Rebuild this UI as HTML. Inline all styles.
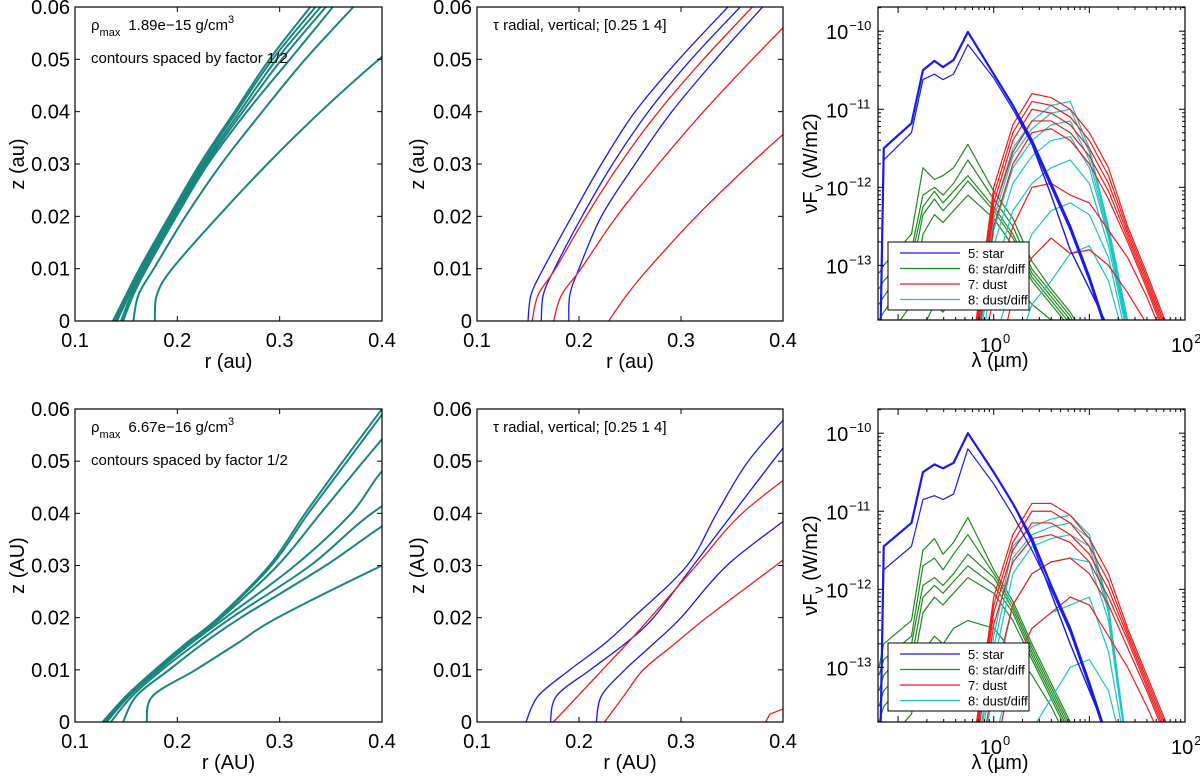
<!DOCTYPE html>
<html><head><meta charset="utf-8">
<style>
html,body{margin:0;padding:0;background:#fff;overflow:hidden;width:1200px;height:783px;}
svg{display:block;font-family:"Liberation Sans",sans-serif;}
</style></head>
<body>
<svg id="fig" width="1200" height="783" viewBox="0 0 1200 783" xmlns="http://www.w3.org/2000/svg"></svg>
<script>
// ---------- contour data (r in au at given z) ----------
const tlZ = [0,0.005,0.01,0.02,0.03,0.04,0.05,0.06];
const tlR1 = [0.137,0.150,0.163,0.192,0.222,0.256,0.290,0.330];
const tlR2 = [0.139,0.152,0.165,0.194,0.224,0.258,0.293,0.335];
const tlR3 = [0.141,0.153,0.166,0.195,0.226,0.261,0.297,0.340];
const tlR4 = [0.145,0.155,0.168,0.197,0.228,0.264,0.302,0.345];
const tlR5 = [0.147,0.157,0.170,0.199,0.230,0.268,0.310,0.352];
const tlR6 = [0.157,0.162,0.177,0.208,0.243,0.283,0.325,0.372];
const tlR7 = [0.178,0.180,0.195,0.240,0.288,0.340,0.397,0.460];

const tmZ = [0,0.005,0.01,0.02,0.03,0.04,0.05,0.06];
const tmBlue1 = [0.150,0.153,0.165,0.193,0.222,0.255,0.298,0.346];
const tmBlue2 = [0.163,0.165,0.176,0.203,0.233,0.268,0.310,0.358];
const tmBlue3 = [0.190,0.191,0.200,0.222,0.255,0.291,0.334,0.380];
const tmRed1 = [0.154,0.160,0.177,0.207,0.240,0.278,0.322,0.370];
const tmRed2 = [0.175,0.183,0.202,0.237,0.278,0.322,0.370,0.420];
const tmRed3 = [0.229,0.247,0.268,0.315,0.368,0.425,0.480,0.540];

const blZ = [0,0.005,0.01,0.015,0.02,0.03,0.04,0.05,0.06];
const blR1 = [0.127,0.150,0.178,0.208,0.240,0.290,0.325,0.362,0.400];
const blR2 = [0.128,0.151,0.179,0.209,0.241,0.292,0.328,0.366,0.404];
const blR3 = [0.129,0.152,0.180,0.210,0.243,0.298,0.340,0.382,0.425];
const blR4 = [0.131,0.153,0.182,0.213,0.247,0.315,0.370,0.410,0.490];
const blR5 = [0.135,0.156,0.185,0.218,0.253,0.330,0.390,0.470,0.550];
const blR6 = [0.147,0.160,0.192,0.225,0.262,0.345,0.420,0.520,0.610];
const blR7 = [0.170,0.176,0.218,0.258,0.298,0.400,0.510,0.620,0.730];

const bmZ = [0,0.005,0.01,0.015,0.02,0.03,0.04,0.05,0.06];
const bmBlue1 = [0.148,0.160,0.191,0.225,0.253,0.306,0.335,0.366,0.410];
const bmBlue2 = [0.172,0.178,0.211,0.245,0.273,0.312,0.351,0.390,0.430];
const bmBlue3 = [0.217,0.222,0.245,0.273,0.300,0.345,0.410,0.470,0.530];
const bmRed1 = [0.175,0.199,0.223,0.247,0.270,0.315,0.360,0.425,0.490];
const bmRed2 = [0.225,0.244,0.263,0.294,0.325,0.393,0.460,0.530,0.600];
const bmRed3R = [0.383,0.387,0.400];
const bmRed3Z = [0,0.0015,0.0025];

// ---------- SED data (log10 lambda [um], log10 nuFnu [W/m2]) ----------
const L = [-1.2,-1.15,-0.86,-0.74,-0.62,-0.53,-0.42,-0.27,0,0.2,0.4,0.6,0.8,1.0,1.2,1.4,1.6,1.9];
const tB1 = [-15,-11.5,-11.18,-10.5,-10.38,-10.46,-10.37,-10.01,-10.55,-10.95,-11.4,-11.95,-12.5,-13.15,-13.9,-15,-15,-15];
const tB2 = [-15,-11.65,-11.3,-10.62,-10.55,-10.62,-10.55,-10.17,-10.6,-11.0,-11.45,-12.0,-12.55,-13.2,-13.95,-15,-15,-15];
const tB3 = [-15,-11.5,-11.18,-10.5,-10.38,-10.46,-10.37,-10.01,-10.55,-10.95,-11.45,-12.1,-12.8,-13.3,-13.8,-15,-15,-15];
const tG1 = [-13.1,-13.0,-12.6,-11.75,-11.9,-11.85,-11.75,-11.45,-12.05,-12.4,-12.95,-13.3,-13.6,-14.0,-15,-15,-15,-15];
const tG2 = [-13.3,-13.2,-12.8,-12.1,-12.0,-12.1,-11.95,-11.65,-12.15,-12.5,-13.05,-13.35,-13.65,-14.1,-15,-15,-15,-15];
const tG3 = [-13.5,-13.4,-12.9,-12.25,-12.05,-12.2,-12.05,-11.85,-12.25,-12.6,-13.1,-13.4,-13.7,-14.1,-15,-15,-15,-15];
const tG4 = [-13.7,-13.6,-13.1,-12.35,-12.15,-12.3,-12.15,-11.92,-12.3,-12.65,-13.15,-13.45,-13.75,-14.2,-15,-15,-15,-15];
const tG5 = [-15,-14,-13.5,-12.6,-12.35,-12.45,-12.3,-12.1,-12.4,-12.75,-13.2,-13.5,-13.8,-14.2,-15,-15,-15,-15];
const tG6 = [-15,-15,-14.5,-13.8,-13.5,-13.6,-13.4,-12.9,-13.0,-13.2,-13.5,-13.7,-13.9,-14.3,-15,-15,-15,-15];
const tR1 = [-15,-15,-15,-15,-15,-15,-15,-14.5,-12.0,-11.2,-10.8,-10.85,-11.0,-11.3,-11.75,-12.5,-13.1,-14.05];
const tR2 = [-15,-15,-15,-15,-15,-15,-15,-14.6,-12.1,-11.3,-10.9,-10.95,-11.1,-11.4,-11.85,-12.55,-13.15,-14.1];
const tR3 = [-15,-15,-15,-15,-15,-15,-15,-14.7,-12.2,-11.4,-11.0,-11.05,-11.2,-11.5,-11.95,-12.6,-13.2,-14.15];
const tR4 = [-15,-15,-15,-15,-15,-15,-15,-14.8,-12.3,-11.55,-11.15,-11.15,-11.3,-11.6,-12.05,-12.65,-13.25,-14.2];
const tR5 = [-15,-15,-15,-15,-15,-15,-15,-14.9,-12.5,-11.7,-11.3,-11.25,-11.4,-11.7,-12.15,-12.7,-13.3,-14.25];
const tR6 = [-15,-15,-15,-15,-15,-15,-15,-15,-13.4,-12.5,-12.0,-11.95,-12.1,-12.2,-12.55,-12.9,-13.4,-14.3];
const tR7 = [-15,-15,-15,-15,-15,-15,-15,-15,-14.5,-13.4,-12.9,-12.65,-12.85,-12.8,-13.0,-13.35,-13.75,-14.5];
const tC1 = [-15,-15,-15,-15,-15,-15,-15,-15,-12.3,-11.5,-11.15,-10.95,-10.9,-11.5,-12.5,-13.7,-15,-15];
const tC2 = [-15,-15,-15,-15,-15,-15,-15,-15,-12.4,-11.6,-11.25,-11.05,-11.0,-11.55,-12.55,-13.75,-15,-15];
const tC3 = [-15,-15,-15,-15,-15,-15,-15,-15,-12.55,-11.75,-11.4,-11.2,-11.15,-11.65,-12.6,-13.8,-15,-15];
const tC4 = [-15,-15,-15,-15,-15,-15,-15,-15,-12.75,-11.95,-11.6,-11.4,-11.35,-11.75,-12.65,-13.85,-15,-15];
const tC5 = [-15,-15,-15,-15,-15,-15,-15,-15,-13.1,-12.3,-11.95,-11.75,-11.65,-11.95,-12.75,-13.9,-15,-15];
const tC6 = [-15,-15,-15,-15,-15,-15,-15,-15,-14.0,-13.2,-12.6,-12.3,-12.2,-12.35,-12.9,-14.0,-15,-15];
const tC7 = [-15,-15,-15,-15,-15,-15,-15,-15,-15,-14.2,-13.5,-13.2,-12.85,-12.75,-13.2,-14.1,-15,-15];

const bB1 = [-15,-11.45,-11.15,-10.5,-10.4,-10.45,-10.38,-10.0,-10.5,-10.9,-11.35,-11.95,-12.5,-13.2,-13.95,-15,-15,-15];
const bB2 = [-15,-11.75,-11.45,-10.85,-10.8,-10.85,-10.78,-10.2,-10.65,-11.05,-11.5,-12.0,-12.55,-13.25,-14.0,-15,-15,-15];
const bB3 = [-15,-11.45,-11.15,-10.5,-10.4,-10.45,-10.38,-10.0,-10.5,-10.9,-11.4,-12.05,-12.7,-13.3,-13.9,-15,-15,-15];
const bG1 = [-13.0,-12.7,-12.4,-11.5,-11.35,-11.55,-11.4,-11.08,-11.75,-12.15,-12.7,-13.2,-13.7,-14.2,-15,-15,-15,-15];
const bG2 = [-13.1,-12.9,-12.6,-11.7,-11.6,-11.75,-11.55,-11.3,-11.8,-12.2,-12.75,-13.25,-13.75,-14.2,-15,-15,-15,-15];
const bG3 = [-13.3,-13.1,-12.7,-11.95,-11.85,-11.95,-11.8,-11.55,-11.85,-12.25,-12.8,-13.3,-13.8,-14.2,-15,-15,-15,-15];
const bG4 = [-13.5,-13.3,-12.9,-12.1,-11.95,-12.05,-11.9,-11.7,-11.95,-12.3,-12.85,-13.35,-13.85,-14.3,-15,-15,-15,-15];
const bG5 = [-13.7,-13.5,-13.1,-12.3,-12.1,-12.2,-12.05,-11.85,-12.05,-12.4,-12.9,-13.4,-13.9,-14.3,-15,-15,-15,-15];
const bG6 = [-15,-14,-13.6,-12.8,-12.6,-12.7,-12.5,-12.4,-12.5,-12.8,-13.1,-13.5,-14.0,-14.4,-15,-15,-15,-15];
const bR1 = [-15,-15,-15,-15,-15,-15,-15,-14.5,-12.1,-11.3,-10.9,-10.9,-11.05,-11.35,-11.8,-12.5,-13.1,-14.0];
const bR2 = [-15,-15,-15,-15,-15,-15,-15,-14.6,-12.2,-11.4,-11.0,-11.0,-11.15,-11.45,-11.9,-12.55,-13.15,-14.05];
const bR3 = [-15,-15,-15,-15,-15,-15,-15,-14.7,-12.3,-11.5,-11.15,-11.15,-11.3,-11.55,-12.0,-12.6,-13.2,-14.1];
const bR4 = [-15,-15,-15,-15,-15,-15,-15,-14.8,-12.45,-11.65,-11.35,-11.3,-11.4,-11.65,-12.1,-12.65,-13.25,-14.15];
const bR5 = [-15,-15,-15,-15,-15,-15,-15,-15,-13.2,-12.2,-11.8,-11.65,-11.6,-11.8,-12.2,-12.75,-13.3,-14.2];
const bR6 = [-15,-15,-15,-15,-15,-15,-15,-15,-14.2,-13.0,-12.5,-12.3,-12.1,-12.2,-12.6,-13.0,-13.5,-14.3];
const bC1 = [-15,-15,-15,-15,-15,-15,-15,-15,-12.6,-11.45,-11.2,-11.1,-11.05,-11.3,-12.2,-14.1,-15,-15];
const bC2 = [-15,-15,-15,-15,-15,-15,-15,-15,-12.75,-11.6,-11.3,-11.2,-11.15,-11.35,-12.25,-14.1,-15,-15];
const bC3 = [-15,-15,-15,-15,-15,-15,-15,-15,-12.95,-11.8,-11.45,-11.35,-11.3,-11.45,-12.3,-14.1,-15,-15];
const bC4 = [-15,-15,-15,-15,-15,-15,-15,-15,-13.3,-12.2,-11.8,-11.65,-11.6,-11.65,-12.4,-14.15,-15,-15];
const bC5 = [-15,-15,-15,-15,-15,-15,-15,-15,-14.0,-13.0,-12.5,-12.3,-12.2,-12.1,-12.8,-14.2,-15,-15];
const bC6 = [-15,-15,-15,-15,-15,-15,-15,-15,-15,-14.5,-13.8,-13.4,-13.0,-12.9,-13.3,-14.3,-15,-15];

const rTicks = [0.1,0.2,0.3,0.4];
const zTicks = [0,0.01,0.02,0.03,0.04,0.05,0.06];
const zTickLabels = ["0","0.01","0.02","0.03","0.04","0.05","0.06"];
const fTicks = [-13,-12,-11,-10];
const lamTicks = [0,2];
const legendLabels = ["5: star","6: star/diff","7: dust","8: dust/diff"];

// ---------- drawing ----------
const NS = "http://www.w3.org/2000/svg";
const svg = document.getElementById('fig');
const TEAL="#19857f", BLUE="#1a1ae6", RED="#ee1c1c", GREEN="#1f8a1f", CYAN="#1cc4c4";
function mk(tag, attrs, parent){const e=document.createElementNS(NS,tag);for(const k in attrs)e.setAttribute(k,attrs[k]);(parent||svg).appendChild(e);return e;}

function makeAxes(id, x0,x1,y0,y1, xmin,xmax,ymin,ymax){
  const g = mk('g',{});
  
  
  const cp = mk('clipPath',{id:'clip-'+id}, g);
  mk('rect',{x:x0,y:y0,width:x1-x0,height:y1-y0},cp);
  const sx = v => x0 + (v-xmin)/(xmax-xmin)*(x1-x0);
  const sy = v => y1 - (v-ymin)/(ymax-ymin)*(y1-y0);
  const plot = mk('g',{'clip-path':'url(#clip-'+id+')'}, g);
  return {g,plot,sx,sy,x0,x1,y0,y1};
}
function frame(ax){
  const f = mk('rect',{x:ax.x0,y:ax.y0,width:ax.x1-ax.x0,height:ax.y1-ax.y0,fill:'none',stroke:'#000','stroke-width':1.2},ax.g);
  
  
}
function line(ax, xs, ys, color, w, name, smooth){
  const P = xs.map((x,i)=>[ax.sx(x), ax.sy(ys[i])]);
  let d='M'+P[0][0].toFixed(2)+','+P[0][1].toFixed(2);
  for(let i=1;i<P.length;i++){
    if(smooth){
      const p0=P[Math.max(0,i-2)], p1=P[i-1], p2=P[i], p3=P[Math.min(P.length-1,i+1)];
      const c1=[p1[0]+(p2[0]-p0[0])/6, p1[1]+(p2[1]-p0[1])/6];
      const c2=[p2[0]-(p3[0]-p1[0])/6, p2[1]-(p3[1]-p1[1])/6];
      d+='C'+c1[0].toFixed(2)+','+c1[1].toFixed(2)+' '+c2[0].toFixed(2)+','+c2[1].toFixed(2)+' '+p2[0].toFixed(2)+','+p2[1].toFixed(2);
    } else d+='L'+P[i][0].toFixed(2)+','+P[i][1].toFixed(2);
  }
  const p = mk('path',{d:d,fill:'none',stroke:color,'stroke-width':w,'stroke-linejoin':'round'},ax.plot);
  
  
}
function text(x,y,s,size,anchor,parent,name){
  const t = mk('text',{x:x,y:y,'font-size':size,'text-anchor':anchor||'middle',fill:'#000'},parent);
  t.textContent = s;
  
  
  return t;
}
function linearTicks(ax, yl, xt, yt, xlabel, ylabel, ylabX){
  xt.forEach(v=>{
    const x=ax.sx(v);
    mk('line',{x1:x,y1:ax.y1,x2:x,y2:ax.y1-5,stroke:'#000'},ax.g);
    mk('line',{x1:x,y1:ax.y0,x2:x,y2:ax.y0+5,stroke:'#000'},ax.g);
    text(x, ax.y1+26, String(v), 20,'middle',ax.g,'x-tick-label');
  });
  yt.forEach((v,i)=>{
    const y=ax.sy(v);
    mk('line',{x1:ax.x0,y1:y,x2:ax.x0+5,y2:y,stroke:'#000'},ax.g);
    mk('line',{x1:ax.x1,y1:y,x2:ax.x1-5,y2:y,stroke:'#000'},ax.g);
    text(ax.x0-5, y+7, yl[i], 20,'end',ax.g,'y-tick-label');
  });
  text((ax.x0+ax.x1)/2, ax.y1+47, xlabel, 20,'middle',ax.g,'x-axis-title');
  const t = text(0,0,ylabel,20,'middle',ax.g,'y-axis-title');
  t.setAttribute('transform','translate('+ylabX+','+((ax.y0+ax.y1)/2)+') rotate(-90)');
}
function logTicks(ax){
  fTicks.forEach(v=>{
    const y=ax.sy(v);
    mk('line',{x1:ax.x0,y1:y,x2:ax.x0+6,y2:y,stroke:'#000'},ax.g);
    mk('line',{x1:ax.x1,y1:y,x2:ax.x1-6,y2:y,stroke:'#000'},ax.g);
    for(let k=2;k<10;k++){const ym=ax.sy(v+Math.log10(k)); if(ym>ax.y0){mk('line',{x1:ax.x0,y1:ym,x2:ax.x0+3,y2:ym,stroke:'#000'},ax.g);mk('line',{x1:ax.x1,y1:ym,x2:ax.x1-3,y2:ym,stroke:'#000'},ax.g);}}
    const t=text(ax.x0-52, y+8, '10', 20,'start',ax.g,'y-tick-label');
    const s=mk('tspan',{dx:1,dy:-9,'font-size':13},t); s.textContent=String(v).replace('-','\u2212');
  });
  for(let v=-1;v<=1;v++){for(let k=1;k<10;k++){const x=ax.sx(v+Math.log10(k)); if(x>ax.x0&&x<ax.x1){const l=k==1?6:3;mk('line',{x1:x,y1:ax.y1,x2:x,y2:ax.y1-l,stroke:'#000'},ax.g);mk('line',{x1:x,y1:ax.y0,x2:x,y2:ax.y0+l,stroke:'#000'},ax.g);}}}
  lamTicks.forEach(v=>{
    const x=ax.sx(v);
    const t=text(x-14, ax.y1+32, '10', 20,'start',ax.g,'x-tick-label');
    const s=mk('tspan',{dx:1,dy:-9,'font-size':13},t); s.textContent=String(v);
  });
  text(1000, ax.y1+47, 'λ (µm)', 20,'middle',ax.g,'x-axis-title');
  const t=text(0,0,'',20,'middle',ax.g,'y-axis-title');
  t.textContent='νF';
  const s1=mk('tspan',{dy:6,'font-size':14},t); s1.textContent='ν';
  const s2=mk('tspan',{dy:-6,'font-size':20},t); s2.textContent=' (W/m2)';
  t.setAttribute('transform','translate(817,'+((ax.y0+ax.y1)/2)+') rotate(-90)');
}
function legend(ax, y0){
  const g=mk('g',{},ax.g);
  
  
  mk('rect',{x:888,y:y0,width:141,height:68,fill:'#fff',stroke:'#000','stroke-width':1},g);
  const cols=[BLUE,GREEN,RED,CYAN];
  legendLabels.forEach((s,i)=>{
    const y=y0+11+i*15.5;
    const e=mk('g',{},g);
    
    
    mk('line',{x1:900,y1:y,x2:960,y2:y,stroke:cols[i],'stroke-width':1.3},e);
    text(968,y+5,s,13,'start',e,'legend-label');
  });
}
function annRho(ax, val){
  const t=text(ax.x0+16, ax.y0+23,'ρ',15,'start',ax.g,'rho-max-annotation');
  const s=mk('tspan',{dy:6,'font-size':11},t); s.textContent='max';
  const s2=mk('tspan',{dy:-6,dx:8,'font-size':15},t); s2.textContent=val+' g/cm';
  const s3=mk('tspan',{dy:-7,'font-size':11},t); s3.textContent='3';
  text(ax.x0+16, ax.y0+56,'contours spaced by factor 1/2',15,'start',ax.g,'contour-spacing-annotation');
}

// Panel 1 (top left)
const a1 = makeAxes('density-contours-top', 75,382,7,321, 0.1,0.4,0,0.06);
[tlR1,tlR2,tlR3,tlR4,tlR5,tlR6,tlR7].forEach(r=>line(a1,r,tlZ,TEAL,2,'density-contour',true));
frame(a1); linearTicks(a1,zTickLabels,rTicks,zTicks,'r (au)','z (au)',24); annRho(a1,'1.89e\u221215');

// Panel 2 (top middle)
const a2 = makeAxes('tau-contours-top', 477,783,7,321, 0.1,0.4,0,0.06);
[tmBlue1,tmBlue2,tmBlue3].forEach(r=>line(a2,r,tmZ,BLUE,1.3,'tau-radial-contour',true));
[tmRed1,tmRed2,tmRed3].forEach(r=>line(a2,r,tmZ,RED,1.3,'tau-vertical-contour',true));
frame(a2); linearTicks(a2,zTickLabels,rTicks,zTicks,'r (au)','z (au)',424);
text(493,30,'τ radial, vertical; [0.25 1 4]',15,'start',a2.g,'tau-annotation');

// Panel 3 (top right)
const a3 = makeAxes('sed-top', 878,1185,7,320, -1.21,2,-13.7,-9.69);
[tG1,tG2,tG3,tG4,tG5,tG6].forEach(v=>line(a3,L,v,GREEN,1.2,'sed-star-diff'));
[tC1,tC2,tC3,tC4,tC5,tC6,tC7].forEach(v=>line(a3,L,v,CYAN,1.2,'sed-dust-diff'));
[tR1,tR2,tR3,tR4,tR5,tR6,tR7].forEach(v=>line(a3,L,v,RED,1.2,'sed-dust'));
line(a3,L,tB1,BLUE,2.2,'sed-star'); line(a3,L,tB2,BLUE,1.2,'sed-star'); line(a3,L,tB3,BLUE,1.4,'sed-star');
frame(a3); logTicks(a3); legend(a3,242);

// Panel 4 (bottom left)
const a4 = makeAxes('density-contours-bottom', 75,382,409,722, 0.1,0.4,0,0.06);
[blR1,blR2,blR3,blR4,blR5,blR6,blR7].forEach(r=>line(a4,r,blZ,TEAL,2,'density-contour',true));
frame(a4); linearTicks(a4,zTickLabels,rTicks,zTicks,'r (AU)','z (AU)',24); annRho(a4,'6.67e\u221216');

// Panel 5 (bottom middle)
const a5 = makeAxes('tau-contours-bottom', 477,783,409,722, 0.1,0.4,0,0.06);
[bmBlue1,bmBlue2,bmBlue3].forEach(r=>line(a5,r,bmZ,BLUE,1.3,'tau-radial-contour',true));
[bmRed1,bmRed2].forEach(r=>line(a5,r,bmZ,RED,1.3,'tau-vertical-contour',true));
line(a5,bmRed3R,bmRed3Z,RED,1.3,'tau-vertical-contour');
frame(a5); linearTicks(a5,zTickLabels,rTicks,zTicks,'r (AU)','z (AU)',424);
text(493,432,'τ radial, vertical; [0.25 1 4]',15,'start',a5.g,'tau-annotation');

// Panel 6 (bottom right)
const a6 = makeAxes('sed-bottom', 878,1185,409,722, -1.21,2,-13.7,-9.69);
[bG1,bG2,bG3,bG4,bG5,bG6].forEach(v=>line(a6,L,v,GREEN,1.2,'sed-star-diff'));
[bC1,bC2,bC3,bC4,bC5,bC6].forEach(v=>line(a6,L,v,CYAN,1.2,'sed-dust-diff'));
[bR1,bR2,bR3,bR4,bR5,bR6].forEach(v=>line(a6,L,v,RED,1.2,'sed-dust'));
line(a6,L,bB1,BLUE,2.2,'sed-star'); line(a6,L,bB2,BLUE,1.2,'sed-star'); line(a6,L,bB3,BLUE,1.4,'sed-star');
frame(a6); logTicks(a6); legend(a6,643);
</script>
</body></html>
